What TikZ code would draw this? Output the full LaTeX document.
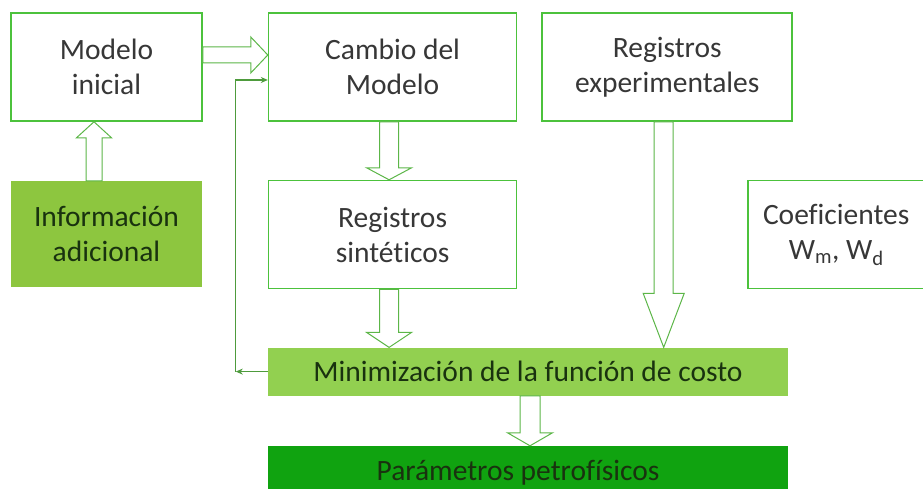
\documentclass[tikz,border=0pt]{standalone}
\usepackage{fontspec}
\setmainfont{Carlito}[Ligatures=NoCommon]
\usepackage{tikz}
\usetikzlibrary{positioning}
\usetikzlibrary{calc, arrows.meta}

\definecolor{boxline}{RGB}{76,194,60}
\definecolor{arrowline}{RGB}{92,182,72}
\definecolor{lightfill}{RGB}{141,198,63}
\definecolor{minfill}{RGB}{146,208,80}
\definecolor{darkfill}{RGB}{16,163,16}
\definecolor{greytext}{RGB}{55,55,55}
\definecolor{darktext}{RGB}{25,50,15}

% flecha hueca: inicio, fin, medio ancho del cuerpo, medio ancho de la punta, largo de la punta
\newcommand{\hollowarrow}[5]{%
	\coordinate (hb) at ($(#2)!#5pt!(#1)$);
	\draw[hollow] ($(#1)!#3pt!90:(#2)$) -- ($(hb)!#3pt!90:(#2)$) -- ($(hb)!#4pt!90:(#2)$)
		-- (#2) -- ($(hb)!#4pt!-90:(#2)$) -- ($(hb)!#3pt!-90:(#2)$) -- ($(#1)!#3pt!-90:(#2)$) -- cycle;
}

\begin{document}
\begin{tikzpicture}[
			x=1pt, y=1pt,
			whitebox/.style={
				rectangle,
				draw=boxline,
				line width=1.6pt,
				fill=white,
				minimum height=108pt,
				inner sep=2pt,
				align=center,
				text=greytext,
				font=\fontsize{29.5}{35}\selectfont
			},
			greenbox/.style={
				rectangle,
				fill=lightfill,
				minimum height=106pt,
				inner sep=2pt,
				align=center,
				text=darktext,
				font=\fontsize{29.5}{35}\selectfont
			},
			bar/.style={
				rectangle,
				minimum width=520pt,
				inner sep=2pt,
				text=darktext,
				font=\fontsize{29.5}{35}\selectfont
			},
			hollow/.style={
				draw=arrowline,
				line width=1pt,
				fill=white,
				line join=miter
			},
			back/.style={
				draw=arrowline!85!black,
				line width=1.2pt,
				-{Stealth[length=7pt,width=6pt]}
			}
			]
			\useasboundingbox (0,0) rectangle (923,489);
			
			% Fila superior
			\node[whitebox, minimum width=191pt] (modelo) at (106.5,422) {Modelo\\inicial};
			\node[whitebox, minimum width=248pt, right=65pt of modelo] (cambio) {Cambio del\\Modelo};
			\node[whitebox, minimum width=250pt, right=24pt of cambio] (exper) {Registros\\experimentales};
			
			% Fila central
			\node[greenbox, minimum width=191pt, below=59pt of modelo] (info) {Información\\adicional};
			\node[whitebox, minimum width=248pt, below=58pt of cambio] (sint) {Registros\\sintéticos};
			\node[whitebox, minimum width=176pt, right=230pt of sint] (coef) {Coeficientes\\W\textsubscript{m}, W\textsubscript{d}};
			
			% Barras inferiores
			\node[bar, fill=minfill, minimum height=48pt, below=58pt of sint.south west, anchor=north west] (minim) {Minimización de la función de costo};
			\node[bar, fill=darkfill, minimum height=54pt, below=50pt of minim] (param) {\hspace*{-20pt}Parámetros petrofísicos};
			
			% Puntos auxiliares de las flechas
			\coordinate (a1) at ($(modelo.east)+(0,12)$);
			\coordinate (a2) at ($(cambio.west)+(0,12)$);
			\coordinate (b1) at ($(info.north)+(-12.5,0)$);
			\coordinate (b2) at ($(modelo.south)+(-12.5,0)$);
			\coordinate (c1) at ($(cambio.south)+(-3.5,0)$);
			\coordinate (c2) at ($(sint.north)+(-3.5,0)$);
			\coordinate (d1) at ($(sint.south)+(-3.5,0)$);
			\coordinate (d2) at (d1 |- minim.north);
			\coordinate (e1) at ($(exper.south)+(-3.5,0)$);
			\coordinate (e2) at (e1 |- minim.north);
			\coordinate (f1) at ($(minim.south)+(2,0)$);
			\coordinate (f2) at (f1 |- param.north);
			
			% Flechas huecas
			\hollowarrow{a1}{a2}{8}{18}{17}
			\hollowarrow{b1}{b2}{8}{17.5}{16}
			\hollowarrow{c1}{c2}{9.5}{22.5}{12}
			\hollowarrow{d1}{d2}{9.5}{22.5}{15}
			\hollowarrow{e1}{e2}{9.5}{20.5}{54}
			\hollowarrow{f1}{f2}{10}{22.5}{13}
			
			% Lazo de realimentación
			\coordinate (loop) at ($(minim.west)+(-32,0)$);
			\draw[back] (minim.west) -- (loop);
			\draw[back] (loop) |- ($(cambio.west)+(0,-13)$);
			
		\end{tikzpicture}
\end{document}
